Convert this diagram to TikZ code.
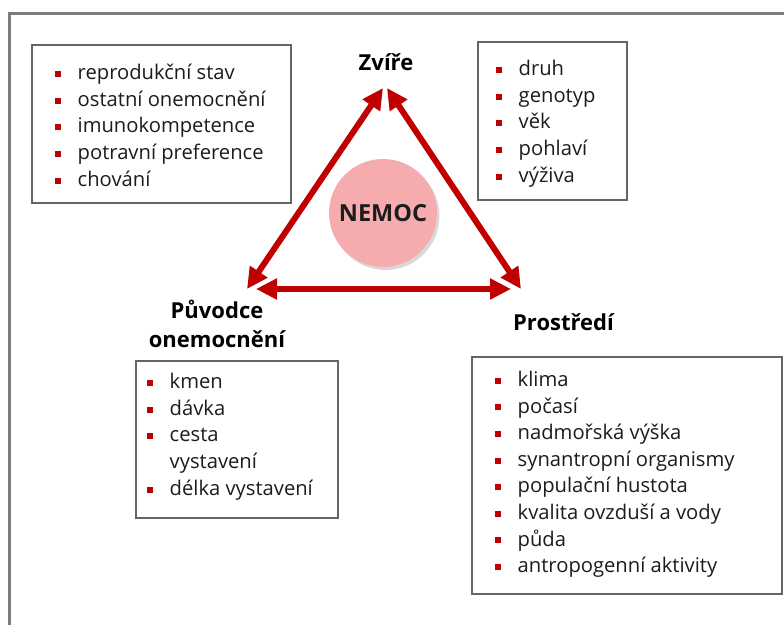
\documentclass[tikz,border=0pt]{standalone}
\usepackage{fontspec}
\setmainfont{Open Sans}
\usetikzlibrary{arrows.meta,shadows}
\definecolor{bred}{RGB}{192,0,0}
\definecolor{txt}{RGB}{28,28,28}
\definecolor{frame}{RGB}{125,125,125}
\definecolor{boxline}{RGB}{95,105,105}
\definecolor{pinkfill}{RGB}{246,172,174}
\newcommand{\bulitem}[1]{\makebox[23pt][l]{\textcolor{bred}{\rule[2.7pt]{6pt}{6pt}}}#1}
\tikzset{
  listbox/.style={draw=boxline,line width=1.1pt,fill=white},
  item/.style={anchor=base west,inner sep=0pt,text=txt,font=\fontsize{20.2}{24}\selectfont},
  lbl/.style={anchor=base,inner sep=0pt,text=black,font=\fontsize{22}{29}\selectfont\bfseries,align=center},
  biarrow/.style={draw=bred,line width=6pt,{Triangle[length=21pt,width=20pt]}-{Triangle[length=21pt,width=20pt]}}
}
\begin{document}
\begin{tikzpicture}[x=1pt,y=-1pt]
\useasboundingbox (0,0) rectangle (784,624);
\clip (0,0) rectangle (784,624);
\fill[white] (0,0) rectangle (784,624);
% outer frame
\draw[frame,line width=3pt] (9.5,640) -- (9.5,13) -- (800,13);

% boxes
\draw[listbox] (32,45) rectangle (291,203);
\draw[listbox] (478,42) rectangle (627,200);
\draw[listbox] (136,361) rectangle (338,518);
\draw[listbox] (472,357) rectangle (782,594);

% box 1 items
\node[item] (a1) at (54.5,79.5) {\bulitem{reprodukční stav}};
\node[item] (a2) at (54.5,106.2) {\bulitem{ostatní onemocnění}};
\node[item] (a3) at (54.5,132.9) {\bulitem{imunokompetence}};
\node[item] (a4) at (54.5,159.6) {\bulitem{potravní preference}};
\node[item] (a5) at (54.5,186.3) {\bulitem{chování}};

% box 2 items
\node[item] (b1) at (495.5,75.5) {\bulitem{druh}};
\node[item] (b2) at (495.5,102.2) {\bulitem{genotyp}};
\node[item] (b3) at (495.5,128.9) {\bulitem{věk}};
\node[item] (b4) at (495.5,155.6) {\bulitem{pohlaví}};
\node[item] (b5) at (495.5,182.3) {\bulitem{výživa}};

% box 3 items
\node[item] (c1) at (146.5,388.5) {\bulitem{kmen}};
\node[item] (c2) at (146.5,415.2) {\bulitem{dávka}};
\node[item] (c3) at (146.5,441.9) {\bulitem{cesta}};
\node[item] (c3b) at (169.5,468.6) {vystavení};
\node[item] (c4) at (146.5,495.3) {\bulitem{délka vystavení}};

% box 4 items
\node[item] (d1) at (494.5,386.5) {\bulitem{klima}};
\node[item] (d2) at (494.5,413.1) {\bulitem{počasí}};
\node[item] (d3) at (494.5,439.7) {\bulitem{nadmořská výška}};
\node[item] (d4) at (494.5,466.3) {\bulitem{synantropní organismy}};
\node[item] (d5) at (494.5,492.9) {\bulitem{populační hustota}};
\node[item] (d6) at (494.5,519.5) {\bulitem{kvalita ovzduší a vody}};
\node[item] (d7) at (494.5,546.1) {\bulitem{půda}};
\node[item] (d8) at (494.5,572.7) {\bulitem{antropogenní aktivity}};

% labels
\node[lbl] (zv) at (386,70) {Zvíře};
\node[lbl] (pu1) at (217,318) {Původce};
\node[lbl] (pu2) at (217,347) {onemocnění};
\node[lbl] (pr) at (563.5,330) {Prostředí};

% centre circle
\node[circle,minimum size=108pt,inner sep=0pt,fill=pinkfill,
      drop shadow={opacity=0.3,shadow xshift=2.5pt,shadow yshift=-3pt},
      font=\fontsize{23.5}{28}\selectfont\bfseries,text=txt] (nemoc) at (383,213) {NEMOC};

% arrow end points
\coordinate (topL) at (383,88);
\coordinate (topR) at (387,88);
\coordinate (leftA) at (247,289);
\coordinate (leftB) at (256,289);
\coordinate (rightA) at (521,289);
\coordinate (rightB) at (511,289);

\draw[biarrow] (leftA) -- (topL);
\draw[biarrow] (topR) -- (rightA);
\draw[biarrow] (leftB) -- (rightB);
\end{tikzpicture}
\end{document}
